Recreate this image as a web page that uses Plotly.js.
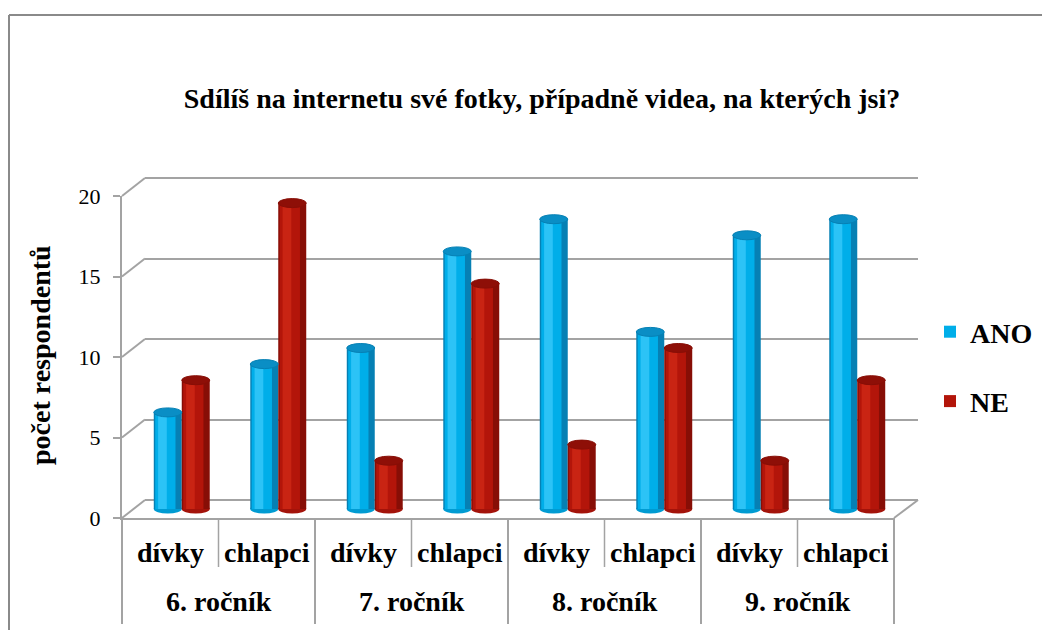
<!DOCTYPE html>
<html><head><meta charset="utf-8">
<script src="https://cdn.plot.ly/plotly-3.0.1.min.js"></script>
<style>html,body{margin:0;padding:0;background:#fff}#chart{width:1042px;height:630px}</style>
</head><body><div id="chart"></div>
<script>
// ---- data ----
const grades = ['6. ročník', '7. ročník', '8. ročník', '9. ročník'];
const genders = ['dívky', 'chlapci'];
const seriesNames = ['ANO', 'NE'];
const ano = [6, 9, 10, 16, 18, 11, 17, 18];
const ne  = [8, 19, 3, 14, 4, 10, 3, 8];
const yTicks = [0, 5, 10, 15, 20];
const chartTitle = 'Sdílíš na internetu své fotky, případně videa, na kterých jsi?';
const yTitle = 'počet respondentů';

// ---- geometry helpers (pixels -> paper) ----
const W = 1042, H = 630;
const fx = p => p / W;
const fy = p => 1 - p / H;
const FONT = 'Liberation Serif';
const BOLD = 28;
const GRID = '#a3a3a3';
const nCat = ano.length;
const idx = ano.map((_, i) => i);

// pixel layout of the three depth planes
const FRONT = {x0: 122, x1: 894, p0: 518, p20: 196};
const MID   = {x0: 133.5, x1: 905.5, p0: 509, p20: 187};
const BACK  = {x0: 145, x1: 918, p0: 500, p20: 178};
function yDom(pl, lo, hi) {
  const s = (pl.p20 - pl.p0) / 20;
  return [fy(pl.p0 + s * lo), fy(pl.p0 + s * hi)];
}
const frontY = v => FRONT.p0 + (FRONT.p20 - FRONT.p0) / 20 * v;
const catPx = v => FRONT.x0 + (v + 0.5) * (FRONT.x1 - FRONT.x0) / nCat;

// ---- traces ----
const data = [];
data.push({type: 'scatter', x: [], y: [], xaxis: 'x', yaxis: 'y', showlegend: false, hoverinfo: 'skip'});

const BW = 0.29;
const series = [
  {name: seriesNames[0], vals: ano, side: -1, cols: ['#0680b4', '#00aee9', '#2cc3f6'], cap: '#0a8ec5', bottom: '#009bd2'},
  {name: seriesNames[1], vals: ne,  side:  1, cols: ['#870e06', '#b3150a', '#c92413'], cap: '#8e0f07', bottom: '#a3130a'}
];
const layerSpecs = [[0, BW], [0.015, 0.21], [0.045, 0.09]];
series.forEach(s => {
  const base = s.side < 0 ? -BW : 0;
  layerSpecs.forEach((sp, k) => {
    data.push({
      type: 'bar', x: idx, y: s.vals, xaxis: 'x2', yaxis: 'y2',
      offset: base + sp[0], width: sp[1],
      marker: {color: s.cols[k], line: {width: 0}},
      name: s.name, legendgroup: s.name, showlegend: k === 1, hoverinfo: 'skip'
    });
  });
});
data.push({type: 'scatter', x: [], y: [], xaxis: 'x3', yaxis: 'y3', showlegend: false, hoverinfo: 'skip'});

// ---- shapes ----
const shapes = [];
series.forEach(s => {
  const cx = s.side * BW / 2;
  s.vals.forEach((v, i) => {
    shapes.push({type: 'circle', layer: 'below', xref: 'x2', yref: 'y2',
      xsizemode: 'pixel', xanchor: i + cx, x0: -14, x1: 14,
      ysizemode: 'pixel', yanchor: 0, y0: -4.5, y1: 4.5,
      fillcolor: s.bottom, line: {width: 0}});
    shapes.push({type: 'circle', layer: 'above', xref: 'x2', yref: 'y2',
      xsizemode: 'pixel', xanchor: i + cx, x0: -14, x1: 14,
      ysizemode: 'pixel', yanchor: v, y0: -4.5, y1: 4.5,
      fillcolor: s.cap, line: {color: s.cols[0], width: 1}});
  });
});
yTicks.forEach(t => {
  shapes.push({type: 'line', xref: 'paper', yref: 'paper',
    x0: fx(FRONT.x0), y0: fy(frontY(t)), x1: fx(BACK.x0), y1: fy(frontY(t) - (FRONT.p0 - BACK.p0)),
    line: {color: GRID, width: 2}});
});
shapes.push({type: 'line', xref: 'paper', yref: 'paper',
  x0: fx(FRONT.x1), y0: fy(FRONT.p0), x1: fx(BACK.x1), y1: fy(BACK.p0),
  line: {color: GRID, width: 2}});
for (let b = 0; b <= nCat; b++) {
  const long = b % 2 === 0;
  shapes.push({type: 'line', xref: 'paper', yref: 'paper',
    x0: fx(catPx(b - 0.5)), x1: fx(catPx(b - 0.5)),
    y0: fy(FRONT.p0), y1: fy(long ? 624 : 567),
    line: {color: GRID, width: long ? 2 : 1.5}});
}
shapes.push({type: 'line', xref: 'paper', yref: 'paper', x0: fx(9), x1: 1, y0: fy(15), y1: fy(15), line: {color: '#8a8a8a', width: 2}});
shapes.push({type: 'line', xref: 'paper', yref: 'paper', x0: fx(9), x1: fx(9), y0: fy(15), y1: 0, line: {color: '#8a8a8a', width: 2}});

// ---- annotations ----
const annotations = [];
idx.forEach(i => {
  annotations.push({text: '<b>' + genders[i % genders.length] + '</b>', xref: 'x3', x: i, yref: 'paper', y: fy(552),
    xanchor: 'center', yanchor: 'middle', showarrow: false,
    font: {family: FONT, size: BOLD, color: '#000'}});
});
grades.forEach((g, k) => {
  annotations.push({text: '<b>' + g + '</b>', xref: 'x3', x: k * genders.length + (genders.length - 1) / 2, yref: 'paper', y: fy(601),
    xanchor: 'center', yanchor: 'middle', showarrow: false,
    font: {family: FONT, size: BOLD, color: '#000'}});
});
annotations.push({text: '<b>' + yTitle + '</b>', textangle: -90, xref: 'paper', yref: 'paper', x: fx(40), y: fy(355),
  xanchor: 'center', yanchor: 'middle', showarrow: false,
  font: {family: FONT, size: BOLD, color: '#000'}});

// ---- layout ----
const layout = {
  width: W, height: H,
  margin: {l: 0, r: 0, t: 0, b: 0, pad: 0},
  paper_bgcolor: '#ffffff', plot_bgcolor: 'rgba(0,0,0,0)',
  barmode: 'overlay',
  hovermode: false,
  font: {family: FONT, color: '#000'},
  title: {text: '<b>' + chartTitle + '</b>', x: fx(542), xanchor: 'center', xref: 'paper',
    y: fy(98), yanchor: 'middle', yref: 'paper',
    font: {family: FONT, size: BOLD, color: '#000'}},
  // back wall
  xaxis: {domain: [fx(BACK.x0), fx(BACK.x1)], range: [0, 1], visible: false, anchor: 'y', fixedrange: true},
  yaxis: {domain: yDom(BACK, -1, 21), range: [-1, 21], anchor: 'x', tickvals: yTicks,
    showgrid: true, gridcolor: GRID, gridwidth: 2, zeroline: false, showline: false,
    showticklabels: false, ticks: '', fixedrange: true},
  // bars (mid depth)
  xaxis2: {domain: [fx(MID.x0), fx(MID.x1)], range: [-0.5, nCat - 0.5], visible: false, anchor: 'y2', fixedrange: true},
  yaxis2: {domain: yDom(MID, -1, 21), range: [-1, 21], visible: false, anchor: 'x2', fixedrange: true},
  // front axis
  xaxis3: {domain: [fx(FRONT.x0), fx(FRONT.x1)], range: [-0.5, nCat - 0.5], anchor: 'y3',
    showline: true, linecolor: GRID, linewidth: 2, showgrid: false, zeroline: false,
    showticklabels: false, ticks: '', fixedrange: true},
  yaxis3: {domain: yDom(FRONT, 0, 20), range: [0, 20], anchor: 'x3',
    showline: true, linecolor: GRID, linewidth: 2, showgrid: false, zeroline: false,
    tickvals: yTicks, ticktext: yTicks.map(String), ticks: 'outside', ticklen: 7, tickwidth: 2, tickcolor: GRID,
    ticklabelstandoff: 8,
    tickfont: {family: FONT, size: 22, color: '#000'}, fixedrange: true},
  legend: {x: fx(930), xanchor: 'left', y: fy(307), yanchor: 'top', bgcolor: 'rgba(0,0,0,0)',
    traceorder: 'grouped', tracegroupgap: 30,
    font: {family: FONT, size: BOLD, weight: 'bold', color: '#000'}},
  shapes: shapes,
  annotations: annotations
};

Plotly.newPlot('chart', data, layout, {staticPlot: true, displayModeBar: false});
</script>
</body></html>
